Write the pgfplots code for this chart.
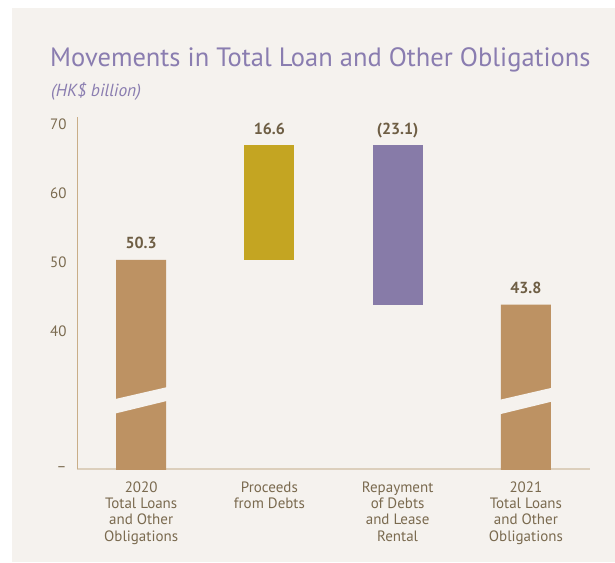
\documentclass[border=0pt]{standalone}
\usepackage{pgfplots}
\pgfplotsset{compat=1.18}
\usepackage{fontspec}
\setmainfont{PT Sans}
\definecolor{cardbg}{HTML}{F5F2EE}
\definecolor{tanbar}{HTML}{BD9263}
\definecolor{goldbar}{HTML}{C4A522}
\definecolor{purplebar}{HTML}{877BA8}
\definecolor{titlecol}{HTML}{8A7DB0}
\definecolor{txtcol}{HTML}{7A6A4F}
\definecolor{valcol}{HTML}{6E5E44}
\definecolor{yaxcol}{HTML}{C9AE88}
\definecolor{xaxcol}{HTML}{DCCFBC}
\begin{document}
\begin{tikzpicture}
\path[use as bounding box] (0pt,0pt) rectangle (615pt,-562pt);
\fill[white] (0pt,0pt) rectangle (615pt,-562pt);
\fill[cardbg] (12pt,-8pt) rectangle (615pt,-562pt);
\node[anchor=base west, inner sep=0pt, text=titlecol, font=\fontsize{26.5}{31}\selectfont] at (50pt,-66pt) {Movements in Total Loan and Other Obligations};
\node[anchor=base west, inner sep=0pt, text=titlecol, font=\fontsize{17.5}{20}\selectfont\itshape] at (51pt,-96pt) {(HK\$ billion)};
\begin{axis}[
  at={(77pt,-469pt)}, anchor=south west,
  scale only axis, width=513pt, height=352pt,
  xmin=-0.5, xmax=3.5, ymin=20, ymax=71,
  ybar stacked, reverse stacked plots=false, bar width=50pt,
  axis x line*=bottom, axis y line*=left,
  x axis line style={draw=xaxcol, line width=1.6pt, -},
  y axis line style={draw=yaxcol, line width=0.6pt, -},
  xtick={0,1,2,3},
  xticklabels={{2020\\Total Loans\\and Other\\Obligations},{Proceeds\\from Debts},{Repayment\\of Debts\\and Lease\\Rental},{2021\\Total Loans\\and Other\\Obligations}},
  xticklabel style={align=center, text=txtcol, font=\fontsize{15}{16.3}\selectfont, anchor=north, yshift=-9pt},
  ytick={20,40,50,60,70},
  yticklabels={--,40,50,60,70},
  yticklabel style={text=txtcol, font=\fontsize{15}{17}\selectfont, anchor=east, xshift=-7pt},
  /pgf/number format/assume math mode=true,
  major tick length=0pt,
  tick style={draw=none},
]
\addplot[draw=none, fill=none] coordinates {(0,0) (1,50.3) (2,43.8) (3,0)};
\addplot[draw=none, fill=tanbar] coordinates {(0,50.3) (1,0) (2,0) (3,43.8)};
\addplot[draw=none, fill=goldbar] coordinates {(0,0) (1,16.6) (2,0) (3,0)};
\addplot[draw=none, fill=purplebar] coordinates {(0,0) (1,0) (2,23.1) (3,0)};
% break marks
\addplot[sharp plot, stack plots=false, draw=none, fill=cardbg, forget plot, mark=none] coordinates {(-0.21,28.0) (0.21,29.9) (0.21,31.9) (-0.21,30.1)} -- cycle;
\addplot[sharp plot, stack plots=false, draw=none, fill=cardbg, forget plot, mark=none] coordinates {(2.79,27.9) (3.21,29.8) (3.21,31.8) (2.79,30.0)} -- cycle;
% value labels
\node[anchor=base, text=valcol, font=\fontsize{16}{18}\selectfont\bfseries] at (axis cs:0,52.0) {50.3};
\node[anchor=base, text=valcol, font=\fontsize{16}{18}\selectfont\bfseries] at (axis cs:1,68.5) {16.6};
\node[anchor=base, text=valcol, font=\fontsize{16}{18}\selectfont\bfseries] at (axis cs:2,68.5) {(23.1)};
\node[anchor=base, text=valcol, font=\fontsize{16}{18}\selectfont\bfseries] at (axis cs:3,45.5) {43.8};
\end{axis}
\end{tikzpicture}
\end{document}
